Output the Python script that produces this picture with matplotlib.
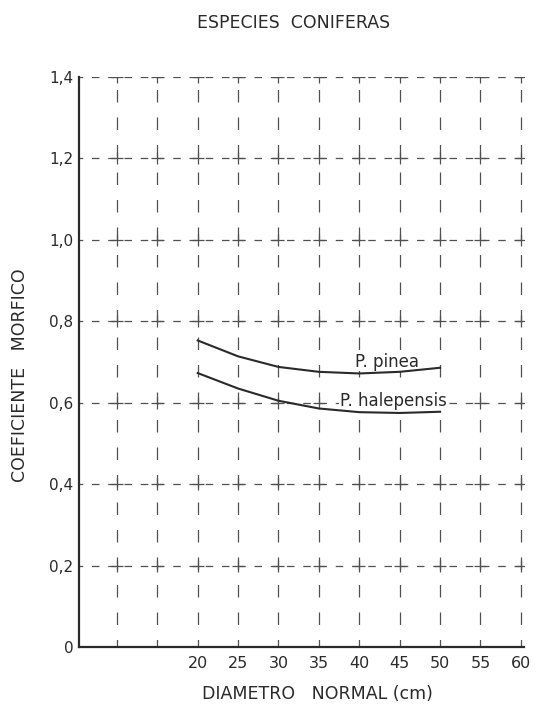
import matplotlib.pyplot as plt
import numpy as np

# values
diametro = [20, 25, 30, 35, 40, 45, 50]
pinea = [0.753, 0.714, 0.688, 0.676, 0.672, 0.676, 0.686]
halepensis = [0.673, 0.635, 0.605, 0.586, 0.577, 0.575, 0.578]

x_grid = [10, 15, 20, 25, 30, 35, 40, 45, 50, 55, 60]
x_labels = ['', '', '20', '25', '30', '35', '40', '45', '50', '55', '60']
y_ticks = [0, 0.2, 0.4, 0.6, 0.8, 1.0, 1.2, 1.4]
y_labels = ['0', '0,2', '0,4', '0,6', '0,8', '1,0', '1,2', '1,4']

plt.rcParams['font.family'] = ['DejaVu Sans']
ink = '#2a2a2a'

fig = plt.figure(figsize=(5.37, 7.12), dpi=100, facecolor='white')
ax = fig.add_axes([0.147, 0.091, 0.829, 0.801])

ax.set_xlim(5.3, 60.4)
ax.set_ylim(0, 1.4)

# dashed grid with small crosses where lines meet
for xv in x_grid:
    ax.plot([xv, xv], [0, 1.4], color='#505050', lw=0.9,
            linestyle=(4, (10, 12)), zorder=1)
for yv in y_ticks[1:]:
    ax.plot([5.3, 60.4], [yv, yv], color='#505050', lw=0.9,
            linestyle=(3, (6, 7)), zorder=1)
gx, gy = np.meshgrid(x_grid, y_ticks[1:])
ax.plot(gx.ravel(), gy.ravel(), linestyle='none', marker='+',
        markersize=9, markeredgewidth=0.9, color='#505050', zorder=1)

ax.plot(diametro, pinea, color=ink, lw=1.5, zorder=5)
ax.plot(diametro, halepensis, color=ink, lw=1.5, zorder=5)

ax.text(43.4, 0.70, 'P. pinea', fontsize=12, color=ink,
        ha='center', va='center', zorder=4,
        bbox=dict(facecolor='white', edgecolor='none', pad=0.3))
ax.text(44.2, 0.604, 'P. halepensis', fontsize=12, color=ink,
        ha='center', va='center', zorder=4,
        bbox=dict(facecolor='white', edgecolor='none', pad=0.3))

for side in ['top', 'right']:
    ax.spines[side].set_visible(False)
for side in ['left', 'bottom']:
    ax.spines[side].set_linewidth(1.6)
    ax.spines[side].set_color(ink)

ax.set_xticks(x_grid)
ax.set_xticklabels(x_labels)
ax.set_yticks(y_ticks)
ax.set_yticklabels(y_labels)
ax.tick_params(axis='x', length=0, pad=6, labelsize=11.5, colors=ink)
ax.tick_params(axis='y', length=0, pad=4, labelsize=11, colors=ink)

fig.text(0.546, 0.968, 'ESPECIES  CONIFERAS', ha='center', va='center',
         fontsize=12.5, color=ink)
fig.text(0.592, 0.025, 'DIAMETRO   NORMAL (cm)', ha='center', va='center',
         fontsize=12.5, color=ink)
fig.text(0.037, 0.473, 'COEFICIENTE   MORFICO', ha='center', va='center',
         rotation=90, fontsize=12.5, color=ink)

fig.savefig('out.png', dpi=100, facecolor='white')
